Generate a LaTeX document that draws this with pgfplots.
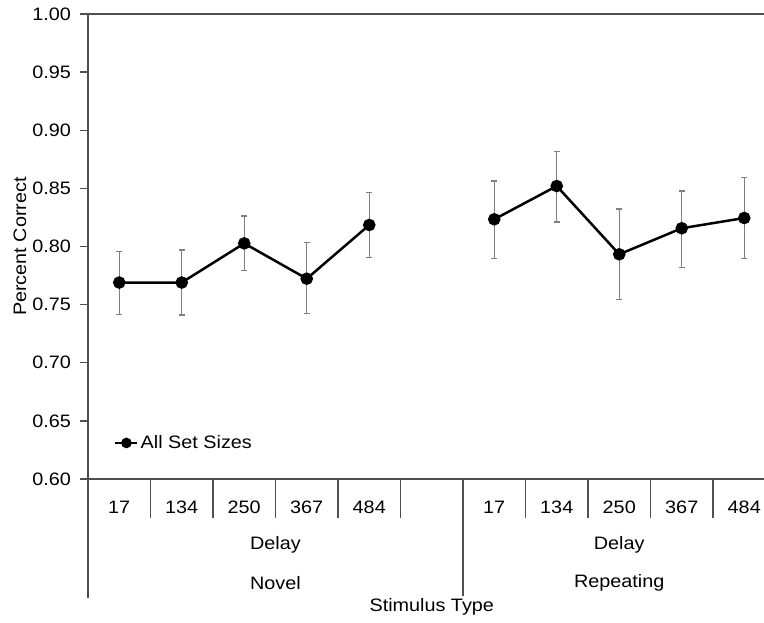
\documentclass[border=0pt]{standalone}
\usepackage{fontspec}
\setmainfont{Liberation Sans}[FakeStretch=1.1]
\usepackage{pgfplots}
\usepackage{pgfplotstable}
\pgfplotsset{compat=1.18}
\definecolor{axgray}{HTML}{505050}
\definecolor{errgray}{HTML}{808080}
\pgfplotstableread{
x y ep em
0 0.769 0.0265 0.0273
1 0.769 0.028 0.028
2 0.8027 0.0235 0.0235
3 0.7723 0.031 0.030
4 0.8185 0.028 0.028
}\novel
\pgfplotstableread{
x y ep em
6 0.8234 0.033 0.034
7 0.852 0.030 0.031
8 0.7933 0.039 0.039
9 0.8157 0.032 0.034
10 0.8245 0.035 0.035
}\repeating
\begin{document}
\fontsize{18}{21}\selectfont
\begin{tikzpicture}
\useasboundingbox (-88pt,-143pt) rectangle (676pt,479pt);
\begin{axis}[
  at={(0,0)}, anchor=south west,
  scale only axis, width=676pt, height=465pt,
  xmin=-0.5, xmax=10.316, ymin=0.6, ymax=1.0,
  clip=false,
  axis x line*=bottom, axis y line*=left,
  axis line style={draw=axgray, line width=1.3pt, -},
  font=\fontsize{18}{21}\selectfont,
  ytick={0.60,0.65,...,1.001},
  yticklabel style={xshift=-3pt, /pgf/number format/fixed, /pgf/number format/fixed zerofill, /pgf/number format/precision=2, /pgf/number format/assume math mode=true},
  tick align=outside, major tick length=8pt,
  ytick style={draw=axgray, line width=1.3pt},
  xtick={0,1,2,3,4,6,7,8,9,10},
  xticklabels={17,134,250,367,484,17,134,250,367,484},
  xtick style={draw=none},
  xticklabel style={yshift=-8pt},
  legend style={at={(axis cs:-0.5,0.631)}, anchor=west, xshift=26pt, draw=none, fill=none, inner sep=0pt, font=\fontsize{18}{21}\selectfont},
  legend image code/.code={\draw[#1, mark repeat=2, mark phase=2, mark size=4pt] plot coordinates {(0pt,0pt) (11pt,0pt) (22pt,0pt)};},
]
\addplot[black, line width=2.5pt, mark=*, mark size=5pt,
  error bars/.cd, y dir=both, y explicit,
  error bar style={errgray, line width=1.2pt},
  error mark options={errgray, line width=1.2pt, mark size=3pt, rotate=90}]
  table[x=x, y=y, y error plus=ep, y error minus=em] {\novel};
\addlegendentry{All Set Sizes}
\addplot[black, line width=2.5pt, mark=*, mark size=5pt, forget plot,
  error bars/.cd, y dir=both, y explicit,
  error bar style={errgray, line width=1.2pt},
  error mark options={errgray, line width=1.2pt, mark size=3pt, rotate=90}]
  table[x=x, y=y, y error plus=ep, y error minus=em] {\repeating};
\draw[axgray, line width=1.3pt] (rel axis cs:0,1) -- (rel axis cs:1,1);
\draw[axgray, line width=1.3pt] (axis cs:-0.5,0.6) -- ([yshift=-119pt]axis cs:-0.5,0.6);
\draw[axgray, line width=1.3pt] (axis cs:5.5,0.6) -- ([yshift=-117pt]axis cs:5.5,0.6);
\pgfplotsinvokeforeach{0.5,1.5,2.5,3.5,4.5,6.5,7.5,8.5,9.5}{
  \draw[axgray, line width=1.3pt] (axis cs:#1,0.6) -- ([yshift=-39pt]axis cs:#1,0.6);
}
\node[anchor=center] at ([yshift=-66pt]axis cs:2.5,0.6) {Delay};
\node[anchor=center] at ([yshift=-104pt]axis cs:2.5,0.6) {Novel};
\node[anchor=center] at ([yshift=-66pt]axis cs:8,0.6) {Delay};
\node[anchor=center] at ([yshift=-104pt]axis cs:8,0.6) {Repeating};
\node[anchor=center] at ([yshift=-128pt]axis cs:5,0.6) {Stimulus Type};
\node[anchor=center, rotate=90] at ([xshift=-68pt]rel axis cs:0,0.5) {Percent Correct};
\end{axis}
\end{tikzpicture}
\end{document}
